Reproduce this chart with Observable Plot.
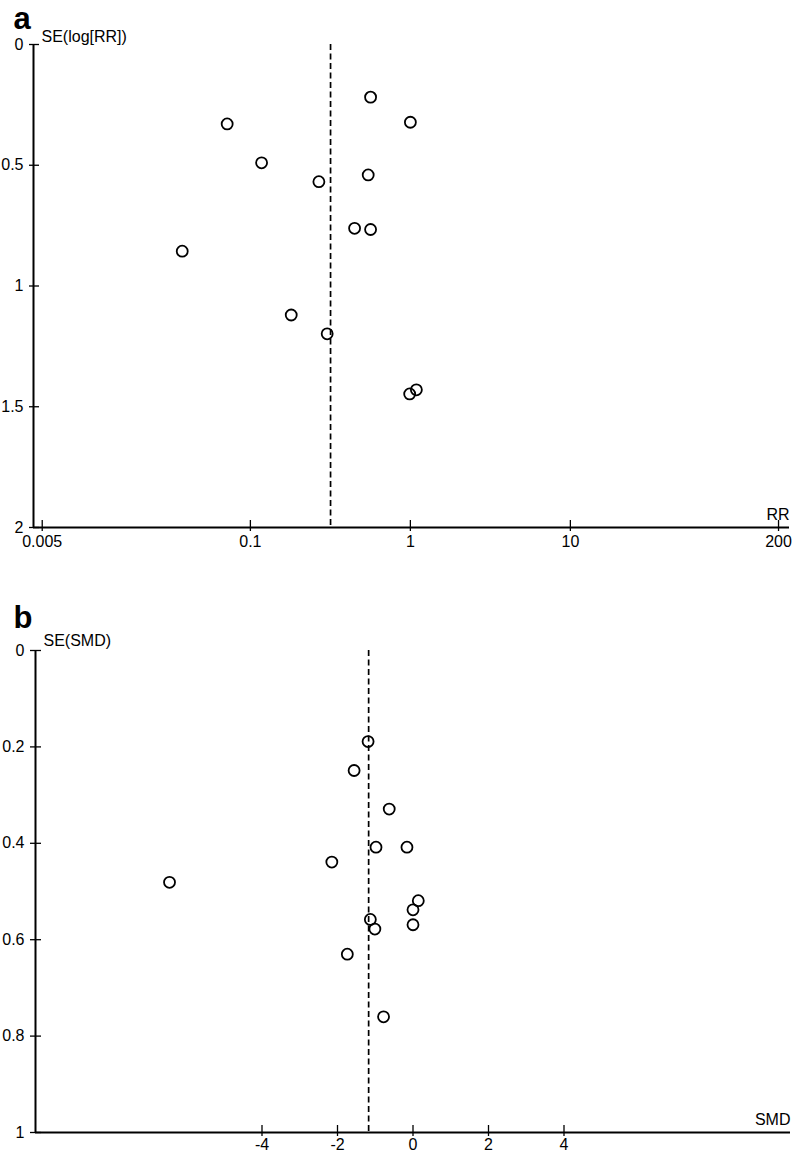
<!DOCTYPE html>
<html><head><meta charset="utf-8">
<script src="https://cdn.jsdelivr.net/npm/d3@7"></script>
<script src="https://cdn.jsdelivr.net/npm/@observablehq/plot@0.6"></script>
<style>
body{margin:0;background:#fff;}
#pa,#pb{position:absolute;left:0;}
#pa{top:0px} #pb{top:580px}
</style></head><body>
<div id="pa"></div><div id="pb"></div>
<script>
// Panel a: risk ratio funnel plot
const rrValues = [0.564, 0.0716, 1.0, 0.1175, 0.268, 0.545, 0.448, 0.564, 0.0375, 0.180, 0.302, 0.99, 1.09];
const rrSE     = [0.218, 0.329, 0.322, 0.490, 0.568, 0.540, 0.761, 0.766, 0.856, 1.120, 1.198, 1.447, 1.430];
const rrPooled = 0.317;
const rrTicks = [0.005, 0.1, 1, 10, 200];
const rrTickLabels = ["0.005", "0.1", "1", "10", "200"];
const rrSETicks = [0, 0.5, 1, 1.5, 2];

// Panel b: standardized mean difference funnel plot
const smdValues = [-1.19, -1.56, -0.63, -0.98, -0.16, -2.15, 0.14, 0.0, 0.0, -1.13, -1.01, -1.74, -0.78, -6.45];
const smdSE     = [0.189, 0.249, 0.329, 0.408, 0.408, 0.439, 0.519, 0.538, 0.569, 0.558, 0.578, 0.630, 0.760, 0.481];
const smdPooled = -1.175;
const smdTicks = [-4, -2, 0, 2, 4];
const smdTickLabels = ["-4", "-2", "0", "2", "4"];
const smdSETicks = [0, 0.2, 0.4, 0.6, 0.8, 1];

function funnel(o) {
  const data = o.values.map((v, i) => ({x: v, y: o.se[i]}));
  const xt = o.xTicks.map((v, i) => ({x: v, label: o.xTickLabels[i]}));
  const innerH = o.height - o.mt - o.mb, innerW = o.width - o.ml - o.mr;
  return Plot.plot({
    width: o.width, height: o.height,
    marginTop: o.mt, marginBottom: o.mb, marginLeft: o.ml, marginRight: o.mr,
    style: {fontFamily: "Arial, 'Liberation Sans', sans-serif", fontSize: "16px", background: "white", color: "black", overflow: "visible"},
    x: {type: o.xType, domain: o.xDomain, axis: null},
    y: {domain: o.yDomain, reverse: true, axis: null},
    marks: [
      Plot.ruleX([o.pooled], {stroke: "#000", strokeWidth: 1.7, strokeDasharray: "6,3.5"}),
      Plot.ruleY([o.yDomain[1]], {stroke: "#000", strokeWidth: 2}),
      Plot.ruleX([o.xDomain[0]], {stroke: "#000", strokeWidth: 2}),
      Plot.tickX(xt, {x: "x", insetTop: innerH - 7, insetBottom: -o.xTickBelow, strokeWidth: 1.3}),
      Plot.text(xt, {x: "x", text: "label", frameAnchor: "bottom", dy: o.xLabelDy, lineAnchor: "top", fontSize: 16}),
      Plot.axisY(o.yTicks, {tickSize: o.yTickLeft, tickPadding: o.yPad, tickFormat: d => String(d), label: null, strokeWidth: 1.3}),
      Plot.tickY(o.yTicks, {y: d => d, insetRight: innerW - 6, strokeWidth: 1.3}),
      Plot.dot(data, {x: "x", y: "y", r: 5.5, stroke: "#000", strokeWidth: 1.8, fill: "none"}),
      Plot.text([o.yLabel], {frameAnchor: "top-left", dx: 8, dy: o.yLabelDy, textAnchor: "start", lineAnchor: "bottom", fontSize: 16}),
      Plot.text([o.xLabel], {frameAnchor: "bottom-right", dx: 0, dy: -8, textAnchor: "end", lineAnchor: "bottom", fontSize: 16}),
      Plot.text([o.panel], {frameAnchor: "top-left", dx: o.panelDx, dy: o.panelDy, textAnchor: "start", lineAnchor: "bottom", fontSize: 31, fontWeight: "bold"})
    ]
  });
}

document.getElementById("pa").append(funnel({
  values: rrValues, se: rrSE, pooled: rrPooled,
  xType: "log", xDomain: [0.00441, 234.2], xTicks: rrTicks, xTickLabels: rrTickLabels,
  yDomain: [0, 2], yTicks: rrSETicks,
  xLabel: "RR", yLabel: "SE(log[RR])", panel: "a",
  width: 794, height: 557, mt: 44, mb: 30, ml: 33, mr: 5,
  xTickBelow: 4, xLabelDy: 8, yTickLeft: 4, yPad: 6,
  yLabelDy: -3, panelDx: -20, panelDy: -16
}));

document.getElementById("pb").append(funnel({
  values: smdValues, se: smdSE, pooled: smdPooled,
  xType: "linear", xDomain: [-10, 10], xTicks: smdTicks, xTickLabels: smdTickLabels,
  yDomain: [0, 1], yTicks: smdSETicks,
  xLabel: "SMD", yLabel: "SE(SMD)", panel: "b",
  width: 794, height: 574, mt: 70, mb: 22, ml: 35, mr: 4,
  xTickBelow: 4, xLabelDy: 6, yTickLeft: 5, yPad: 6,
  yLabelDy: -5, panelDx: -22, panelDy: -23
}));
</script>
</body></html>
